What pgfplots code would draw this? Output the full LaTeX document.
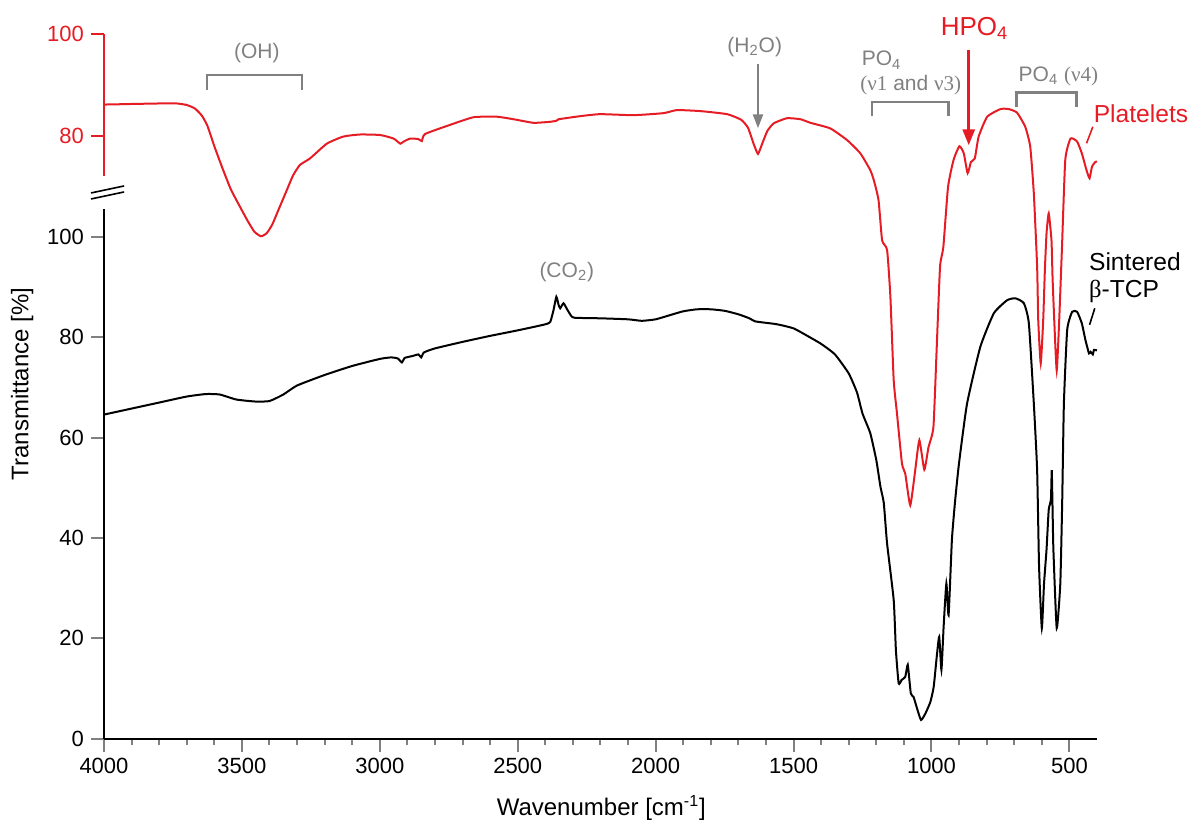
\documentclass[border=0pt]{standalone}
\usepackage{fontspec}
\setmainfont{Liberation Sans}
\newfontfamily\gr{Liberation Serif}
\usepackage{pgfplots}
\pgfplotsset{compat=1.18}
\usetikzlibrary{arrows.meta}
\definecolor{plred}{RGB}{230,28,36}
\definecolor{anngray}{RGB}{128,128,128}

\pgfplotsset{
  spec/.style={
    scale only axis, width=496.5pt, xmin=400, xmax=4000, x dir=reverse, clip=false,
    tick align=outside, major tick length=6.5pt, minor tick length=3pt,
    axis line style={line width=1pt}, tick style={line width=1pt},
    /pgf/number format/assume math mode=true,
    /pgf/number format/1000 sep={},
    tick label style={font=\fontsize{11}{13}\selectfont},
  }
}

\begin{document}
\begin{tikzpicture}
\useasboundingbox (0,0) rectangle (595pt,413.5pt);

% sintered beta-TCP, lower axis
\begin{axis}[spec, at={(52pt,44.25pt)}, anchor=south west, height=264.75pt,
  ymin=0, ymax=105.6, axis x line*=bottom, axis y line*=left,
  xtick={500,1000,...,4000}, minor x tick num=4, ytick={0,20,...,100}]
\addplot[black, line width=1pt, smooth, tension=0.3] coordinates {
(4000,64.6) (3900,65.8) (3800,67.0) (3700,68.2) (3630,68.7) (3580,68.6) (3520,67.6)
(3450,67.2) (3400,67.3) (3350,68.6) (3300,70.4) (3200,72.5) (3100,74.3) (3000,75.7)
(2960,76.0) (2935,75.8) (2920,75.0) (2910,75.9) (2880,76.3) (2860,76.6) (2850,76.0)
(2840,77.0) (2800,77.8) (2700,79.1) (2600,80.3) (2500,81.4) (2400,82.6) (2382,83.1)
(2370,85.5) (2360,88.1) (2352,86.5) (2346,85.8) (2334,86.8) (2320,85.5) (2305,84.2)
(2292,83.9) (2200,83.8) (2100,83.6) (2050,83.3) (2000,83.6) (1950,84.4) (1900,85.2)
(1850,85.6) (1800,85.6) (1750,85.3) (1700,84.6) (1660,83.8) (1640,83.2) (1600,82.9)
(1570,82.7) (1550,82.5) (1500,81.8) (1450,80.3) (1400,78.7) (1350,76.6) (1300,72.8)
(1270,69.0) (1250,64.8) (1222,60.9) (1200,55.5) (1185,50.2) (1173,47.0) (1161,38.9)
(1137,27.6) (1129,17.6) (1119,11.0) (1108,11.7) (1095,12.3) (1086,14.7) (1075,9.0)
(1065,8.3) (1054,6.3) (1038,3.7) (1022,5.0) (1004,7.3) (992,10.3) (981,16.3)
(972,20.3) (964,13.7) (956,22.3) (946,30.9) (938,24.6) (926,39.6) (914,47.6)
(900,55.0) (871,66.8) (823,78.1) (774,84.8) (726,87.4) (696,87.8) (665,86.8)
(647,82.8) (629,66.8) (617,53.5) (610,34.3) (600,22.0) (592,30.9) (583,37.6)
(575,45.6) (567,47.6) (564,53.5) (561,45.6) (558,37.6) (546,22.0) (533,30.9)
(526,47.6) (520,66.8) (508,81.5) (490,85.1) (472,85.1) (455,82.8) (442,79.5)
(429,76.8) (423,77.1) (415,76.6) (411,77.5) (400,77.4)
};

% axis break
\draw[black, line width=0.8pt] (axis cs:4047,107.6) -- (axis cs:3927,109.0);
\draw[black, line width=0.8pt] (axis cs:4047,108.8) -- (axis cs:3927,110.2);

% axis labels
\node[rotate=90, font=\fontsize{12}{14}\selectfont] at (axis cs:4297,70.7) {Transmittance [\%]};
\node[font=\fontsize{12}{14}\selectfont] at (axis cs:2197,-13.8) {Wavenumber [cm\textsuperscript{-1}]};

% annotations
\begin{scope}[anngray, line width=1.2pt]
\draw (axis cs:3627.5,129.4) -- (axis cs:3627.5,132.3) -- (axis cs:3283,132.3) -- (axis cs:3283,129.4);
\draw (axis cs:1215.5,124.1) -- (axis cs:1215.5,127.0) -- (axis cs:938,127.0) -- (axis cs:938,124.1);
\draw (axis cs:692,125.9) -- (axis cs:692,128.8) -- (axis cs:474,128.8) -- (axis cs:474,125.9);
\draw[-{Triangle[length=7pt,width=5pt]}] (axis cs:1629,134.6) -- (axis cs:1629,121.7);
\end{scope}
\begin{scope}[font=\fontsize{10.5}{12}\selectfont, text=anngray]
\node at (axis cs:3446,136.6) {(OH)};
\node at (axis cs:1641,137.9) {(H\textsubscript{2}O)};
\node[anchor=west, inner sep=0pt] at (axis cs:1254,135.3) {PO\textsubscript{4}};
\node at (axis cs:1075,130.3) {{\gr (ν1} and {\gr ν3)}};
\node at (axis cs:540,132.1) {PO\textsubscript{4} {\gr (ν4)}};
\node at (axis cs:2322,93.1) {(CO\textsubscript{2})};
\end{scope}
\draw[plred, line width=1.5pt, -{Triangle[length=8pt,width=6pt]}] (axis cs:865,137.4) -- (axis cs:865,118.3);
\node[text=plred, font=\fontsize{13}{15}\selectfont] at (axis cs:844,141.6) {HPO\textsubscript{4}};
\node[text=plred, anchor=west, inner sep=0pt, font=\fontsize{12.3}{14}\selectfont] at (axis cs:413,124.7) {Platelets};
\draw[plred, line width=0.8pt] (axis cs:415,122.0) -- (axis cs:438,118.7);
\node[anchor=west, inner sep=0pt, font=\fontsize{12.3}{14}\selectfont] at (axis cs:430,95.1) {Sintered};
\node[anchor=west, inner sep=0pt, font=\fontsize{12.3}{14}\selectfont] at (axis cs:430,89.1) {{\gr β}-TCP};
\draw[black, line width=0.8pt] (axis cs:408,85.8) -- (axis cs:427,82.5);
\end{axis}

% platelets, upper axis
\begin{axis}[spec, at={(52pt,325.65pt)}, anchor=south west, height=70.7pt,
  ymin=72.2, ymax=100, axis x line=none, axis y line*=left,
  ytick={80,100}, axis line style={plred}, tick style={plred},
  y tick label style={text=plred}]
\addplot[plred, line width=1pt, smooth, tension=0.3] coordinates {
(4000,86.2) (3984,86.2) (3900,86.3) (3800,86.4) (3736,86.4) (3700,86.1) (3670,85.4)
(3645,84.0) (3625,82.0) (3600,78.0) (3570,73.6) (3540,69.5) (3507,66.1) (3480,63.4)
(3455,61.2) (3431,60.3) (3410,60.9) (3390,62.6) (3365,65.8) (3340,69.0) (3315,72.2)
(3290,74.3) (3253,75.6) (3192,78.5) (3132,79.9) (3071,80.3) (2999,80.2) (2950,79.5)
(2926,78.5) (2914,78.9) (2890,79.5) (2860,79.4) (2848,79.0) (2836,80.4) (2745,82.2)
(2660,83.7) (2576,83.8) (2515,83.3) (2443,82.6) (2382,82.8) (2360,83.0) (2352,83.3)
(2274,83.9) (2201,84.3) (2080,84.1) (1971,84.5) (1923,85.1) (1838,84.9) (1741,84.3)
(1690,83.2) (1665,81.6) (1645,78.5) (1629,76.5) (1613,78.6) (1595,81.0) (1572,82.5)
(1524,83.5) (1475,83.3)
(1439,82.6) (1367,81.5) (1306,79.2) (1258,76.6) (1222,73.3) (1209,71.3) (1192,67.4)
(1179,59.5) (1161,57.6) (1149,48.4) (1137,32.0) (1125,25.4) (1107,15.6) (1095,13.6)
(1077,7.4) (1059,14.3) (1044,20.2) (1026,14.4) (1011,18.8) (993,22.8) (981,38.5)
(969,54.3) (957,58.2) (940,70.0) (920,75.3) (899,78.0) (883,76.6) (869,72.7)
(857,74.9) (843,75.6) (829,79.9) (798,83.8) (750,85.3) (720,85.3) (690,84.6)
(660,81.8) (642,77.9) (629,68.7) (617,54.3) (613,43.8) (604,35.3) (595,43.8)
(589,53.6) (583,60.8) (575,64.8) (565,59.5) (561,52.0) (555,43.8) (546,33.9)
(537,43.8) (527,58.0) (515,75.3) (496,79.5) (472,78.9) (455,76.6) (438,73.3)
(427,71.7) (418,74.0) (406,74.9) (400,75.0)
};
\end{axis}
\end{tikzpicture}
\end{document}
